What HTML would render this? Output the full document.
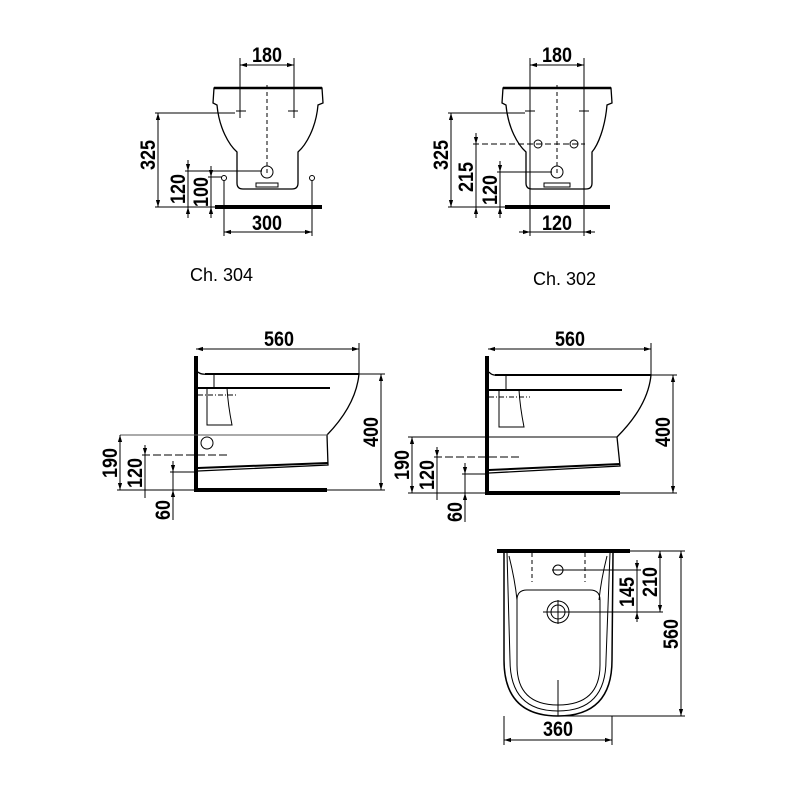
<!DOCTYPE html>
<html><head><meta charset="utf-8"><style>
html,body{margin:0;padding:0;background:#fff}
svg{display:block}
text{font-family:"Liberation Sans Narrow","Liberation Sans",sans-serif;font-weight:bold;font-size:21px;fill:#000}
.l{font-family:"Liberation Sans",sans-serif;font-weight:normal;font-size:18px}
</style></head><body>
<svg width="800" height="800" viewBox="0 0 800 800" xmlns="http://www.w3.org/2000/svg">
<defs>
<marker id="a" viewBox="0 0 10 10" refX="10" refY="5" markerWidth="7" markerHeight="7" orient="auto-start-reverse"><path d="M0,2 L10,5 L0,8z" fill="#000"/></marker>
</defs>
<g fill="none" stroke="#000" stroke-width="1">
<!-- ===== Top-left Ch.304 ===== -->
<line x1="240" y1="65" x2="294" y2="65" marker-start="url(#a)" marker-end="url(#a)"/>
<line x1="240" y1="58" x2="240" y2="118"/><line x1="294" y1="58" x2="294" y2="118"/>
<path d="M214,88 L322,88 L323,103 L318,105 C316,128 306,145 298,152 L298,183 Q298,189 292,189 L243,189 Q237,189 237,183 L237,152 C229,145 219,128 217,105 L213,103 Z" stroke-width="1.3"/>
<line x1="214" y1="88" x2="322" y2="88" stroke-width="2.5"/>
<line x1="267" y1="85" x2="267" y2="175" stroke-dasharray="4,3"/>
<path d="M236,111 h10 M240,106 v10 M288,111 h10 M294,106 v10" />
<circle cx="267" cy="172" r="6"/>
<rect x="256" y="183" width="22" height="4"/>
<line x1="215" y1="207" x2="322" y2="207" stroke-width="4"/>
<line x1="155" y1="113" x2="235" y2="113"/>
<line x1="158" y1="113" x2="158" y2="207" marker-start="url(#a)" marker-end="url(#a)"/>
<line x1="155" y1="207" x2="215" y2="207"/>
<line x1="185" y1="171" x2="262" y2="171"/>
<line x1="188" y1="160" x2="188" y2="171" marker-end="url(#a)"/>
<line x1="188" y1="207" x2="188" y2="218" marker-start="url(#a)"/>
<line x1="188" y1="171" x2="188" y2="207"/>
<line x1="208" y1="177" x2="222" y2="177"/>
<line x1="211" y1="166" x2="211" y2="177" marker-end="url(#a)"/>
<line x1="211" y1="207" x2="211" y2="218" marker-start="url(#a)"/>
<line x1="211" y1="177" x2="211" y2="207"/>
<circle cx="224" cy="178" r="2.5"/><circle cx="312" cy="178" r="2.5"/>
<line x1="224" y1="181" x2="224" y2="236"/><line x1="312" y1="181" x2="312" y2="236"/>
<line x1="224" y1="232" x2="312" y2="232" marker-start="url(#a)" marker-end="url(#a)"/>

<!-- ===== Top-right Ch.302 ===== -->
<line x1="530" y1="65" x2="584" y2="65" marker-start="url(#a)" marker-end="url(#a)"/>
<line x1="530" y1="58" x2="530" y2="236"/><line x1="584" y1="58" x2="584" y2="236"/>
<path d="M503,88 L611,88 L612,103 L607,105 C605,128 598,145 592,152 L592,183 Q592,189 586,189 L532,189 Q526,189 526,183 L526,152 C518,145 508,128 506,105 L502,103 Z" stroke-width="1.3"/>
<line x1="503" y1="88" x2="611" y2="88" stroke-width="2.5"/>
<line x1="557" y1="85" x2="557" y2="175" stroke-dasharray="4,3"/>
<path d="M525,111 h10 M530,106 v10 M579,111 h10 M584,106 v10"/>
<circle cx="538" cy="144" r="4"/><circle cx="574" cy="144" r="4"/>
<circle cx="557" cy="172" r="6"/>
<rect x="544" y="183" width="26" height="4"/>
<line x1="505" y1="207" x2="610" y2="207" stroke-width="4"/>
<line x1="448" y1="113" x2="525" y2="113"/>
<line x1="451" y1="113" x2="451" y2="207" marker-start="url(#a)" marker-end="url(#a)"/>
<line x1="448" y1="207" x2="505" y2="207"/>
<line x1="473" y1="144" x2="585" y2="144" stroke-dasharray="6,3"/>
<line x1="476" y1="133" x2="476" y2="144" marker-end="url(#a)"/>
<line x1="476" y1="144" x2="476" y2="218"/>
<line x1="476" y1="207" x2="476" y2="218" marker-start="url(#a)"/>
<line x1="497" y1="172" x2="552" y2="172"/>
<line x1="500" y1="161" x2="500" y2="172" marker-end="url(#a)"/>
<line x1="500" y1="172" x2="500" y2="218"/>
<line x1="500" y1="207" x2="500" y2="218" marker-start="url(#a)"/>
<line x1="519" y1="232" x2="530" y2="232" marker-end="url(#a)"/>
<line x1="584" y1="232" x2="595" y2="232" marker-start="url(#a)"/>
<line x1="530" y1="232" x2="584" y2="232"/>

<!-- ===== Middle-left side view ===== -->
<line x1="196" y1="356" x2="196" y2="492" stroke-width="4"/>
<line x1="196" y1="490" x2="327" y2="490" stroke-width="4"/>
<line x1="196" y1="349" x2="359" y2="349" marker-start="url(#a)" marker-end="url(#a)"/>
<line x1="359" y1="343" x2="359" y2="374"/>
<path d="M198,372 Q201,375 208,374 L359,374 Q356,405 327,435 L328,465 L198,471" stroke-width="1.3"/>
<line x1="205" y1="374" x2="359" y2="374" stroke-width="2"/>
<line x1="198" y1="388" x2="330" y2="388" stroke-width="2"/>
<line x1="214" y1="374" x2="214" y2="388"/>
<path d="M207,388 L207,425 L232,425 Q228,405 227,388"/>
<line x1="198" y1="395" x2="238" y2="395" stroke-dasharray="5,2,1,2"/>
<line x1="120" y1="435" x2="328" y2="435" stroke="#555"/>
<circle cx="207" cy="443" r="6"/>
<line x1="198" y1="468" x2="328" y2="463" stroke-width="2"/>
<line x1="330" y1="374" x2="385" y2="374"/><line x1="327" y1="490" x2="385" y2="490"/>
<line x1="381" y1="374" x2="381" y2="490" marker-start="url(#a)" marker-end="url(#a)"/>
<line x1="117" y1="490" x2="196" y2="490"/>
<line x1="120" y1="435" x2="120" y2="490" marker-start="url(#a)" marker-end="url(#a)"/>
<line x1="142" y1="455" x2="230" y2="455" stroke-dasharray="8,3"/>
<line x1="145" y1="445" x2="145" y2="455" marker-end="url(#a)"/>
<line x1="145" y1="455" x2="145" y2="498"/>
<line x1="170" y1="472" x2="196" y2="472"/>
<line x1="173" y1="461" x2="173" y2="472" marker-end="url(#a)"/>
<line x1="173" y1="472" x2="173" y2="520"/>
<line x1="173" y1="490" x2="173" y2="500" marker-start="url(#a)"/>

<!-- ===== Middle-right side view ===== -->
<line x1="487" y1="356" x2="487" y2="495" stroke-width="4"/>
<line x1="487" y1="493" x2="620" y2="493" stroke-width="4"/>
<line x1="488" y1="349" x2="651" y2="349" marker-start="url(#a)" marker-end="url(#a)"/>
<line x1="651" y1="343" x2="651" y2="375"/>
<path d="M489,372 Q492,376 499,375 L651,375 Q648,406 617,437 L620,466 L489,473" stroke-width="1.3"/>
<line x1="495" y1="375" x2="651" y2="375" stroke-width="2"/>
<line x1="489" y1="390" x2="622" y2="390" stroke-width="2"/>
<line x1="506" y1="375" x2="506" y2="390"/>
<path d="M499,390 L499,427 L524,427 Q520,407 519,390"/>
<line x1="489" y1="397" x2="530" y2="397" stroke-dasharray="5,2,1,2"/>
<line x1="408" y1="437" x2="617" y2="437"/>
<line x1="489" y1="470" x2="620" y2="464" stroke-width="2"/>
<line x1="620" y1="375" x2="677" y2="375"/><line x1="620" y1="493" x2="677" y2="493"/>
<line x1="673" y1="375" x2="673" y2="493" marker-start="url(#a)" marker-end="url(#a)"/>
<line x1="408" y1="493" x2="487" y2="493"/>
<line x1="412" y1="437" x2="412" y2="493" marker-start="url(#a)" marker-end="url(#a)"/>
<line x1="434" y1="457" x2="520" y2="457" stroke-dasharray="8,3"/>
<line x1="437" y1="447" x2="437" y2="457" marker-end="url(#a)"/>
<line x1="437" y1="457" x2="437" y2="500"/>
<line x1="462" y1="474" x2="487" y2="474"/>
<line x1="465" y1="463" x2="465" y2="474" marker-end="url(#a)"/>
<line x1="465" y1="474" x2="465" y2="522"/>
<line x1="465" y1="493" x2="465" y2="503" marker-start="url(#a)"/>

<!-- ===== Bottom plan view ===== -->
<line x1="497" y1="551" x2="630" y2="551" stroke-width="4"/>
<path d="M504,553 L504,660 Q504,716 558,716 Q612,716 612,660 L613,553" stroke-width="1.5"/>
<path d="M507,553 L510,660 Q510,711 558,711 Q606,711 606,660 L610,553"/>
<path d="M509,556 Q515,580 517,600"/><path d="M607,556 Q601,580 599,600"/>
<path d="M527,590 L590,590 Q600,590 600,600 L600,665 Q600,705 558,705 Q517,705 517,665 L517,600 Q517,590 527,590 Z"/>
<line x1="532" y1="553" x2="532" y2="582" stroke-dasharray="4,3"/>
<line x1="585" y1="553" x2="585" y2="582" stroke-dasharray="4,3"/>
<circle cx="558" cy="570" r="5"/>
<line x1="552" y1="570" x2="641" y2="570"/>
<circle cx="558" cy="612" r="11"/><circle cx="558" cy="612" r="7"/>
<line x1="543" y1="612" x2="663" y2="612"/>
<line x1="558" y1="600" x2="558" y2="624"/>
<line x1="558" y1="680" x2="558" y2="716"/>
<line x1="637" y1="560" x2="637" y2="570" marker-end="url(#a)"/>
<line x1="637" y1="570" x2="637" y2="620"/>
<line x1="637" y1="612" x2="637" y2="622" marker-start="url(#a)"/>
<line x1="630" y1="551" x2="685" y2="551"/>
<line x1="660" y1="551" x2="660" y2="612" marker-start="url(#a)" marker-end="url(#a)"/>
<line x1="558" y1="716" x2="685" y2="716"/>
<line x1="681" y1="551" x2="681" y2="716" marker-start="url(#a)" marker-end="url(#a)"/>
<line x1="504" y1="716" x2="504" y2="745"/><line x1="612" y1="716" x2="612" y2="745"/>
<line x1="504" y1="740" x2="612" y2="740" marker-start="url(#a)" marker-end="url(#a)"/>
</g>

<g>
<text x="267" y="62" text-anchor="middle" textLength="30" lengthAdjust="spacingAndGlyphs">180</text>
<text x="557" y="62" text-anchor="middle" textLength="30" lengthAdjust="spacingAndGlyphs">180</text>
<text x="267" y="230" text-anchor="middle" textLength="30" lengthAdjust="spacingAndGlyphs">300</text>
<text x="557" y="230" text-anchor="middle" textLength="30" lengthAdjust="spacingAndGlyphs">120</text>
<text transform="translate(155,155) rotate(-90)" text-anchor="middle" textLength="30" lengthAdjust="spacingAndGlyphs">325</text>
<text transform="translate(185,189) rotate(-90)" text-anchor="middle" textLength="30" lengthAdjust="spacingAndGlyphs">120</text>
<text transform="translate(208,192) rotate(-90)" text-anchor="middle" textLength="30" lengthAdjust="spacingAndGlyphs">100</text>
<text transform="translate(448,155) rotate(-90)" text-anchor="middle" textLength="30" lengthAdjust="spacingAndGlyphs">325</text>
<text transform="translate(473,177) rotate(-90)" text-anchor="middle" textLength="30" lengthAdjust="spacingAndGlyphs">215</text>
<text transform="translate(497,190) rotate(-90)" text-anchor="middle" textLength="30" lengthAdjust="spacingAndGlyphs">120</text>
<text class="l" x="190" y="281">Ch. 304</text>
<text class="l" x="533" y="285">Ch. 302</text>
<text x="279" y="346" text-anchor="middle" textLength="30" lengthAdjust="spacingAndGlyphs">560</text>
<text x="570" y="346" text-anchor="middle" textLength="30" lengthAdjust="spacingAndGlyphs">560</text>
<text transform="translate(378,432) rotate(-90)" text-anchor="middle" textLength="30" lengthAdjust="spacingAndGlyphs">400</text>
<text transform="translate(670,432) rotate(-90)" text-anchor="middle" textLength="30" lengthAdjust="spacingAndGlyphs">400</text>
<text transform="translate(117,463) rotate(-90)" text-anchor="middle" textLength="30" lengthAdjust="spacingAndGlyphs">190</text>
<text transform="translate(142,473) rotate(-90)" text-anchor="middle" textLength="30" lengthAdjust="spacingAndGlyphs">120</text>
<text transform="translate(170,510) rotate(-90)" text-anchor="middle" textLength="20" lengthAdjust="spacingAndGlyphs">60</text>
<text transform="translate(409,465) rotate(-90)" text-anchor="middle" textLength="30" lengthAdjust="spacingAndGlyphs">190</text>
<text transform="translate(434,475) rotate(-90)" text-anchor="middle" textLength="30" lengthAdjust="spacingAndGlyphs">120</text>
<text transform="translate(462,512) rotate(-90)" text-anchor="middle" textLength="20" lengthAdjust="spacingAndGlyphs">60</text>
<text transform="translate(634,592) rotate(-90)" text-anchor="middle" textLength="30" lengthAdjust="spacingAndGlyphs">145</text>
<text transform="translate(657,582) rotate(-90)" text-anchor="middle" textLength="30" lengthAdjust="spacingAndGlyphs">210</text>
<text transform="translate(678,634) rotate(-90)" text-anchor="middle" textLength="30" lengthAdjust="spacingAndGlyphs">560</text>
<text x="558" y="736" text-anchor="middle" textLength="30" lengthAdjust="spacingAndGlyphs">360</text>
</g>
</svg>
</body></html>
